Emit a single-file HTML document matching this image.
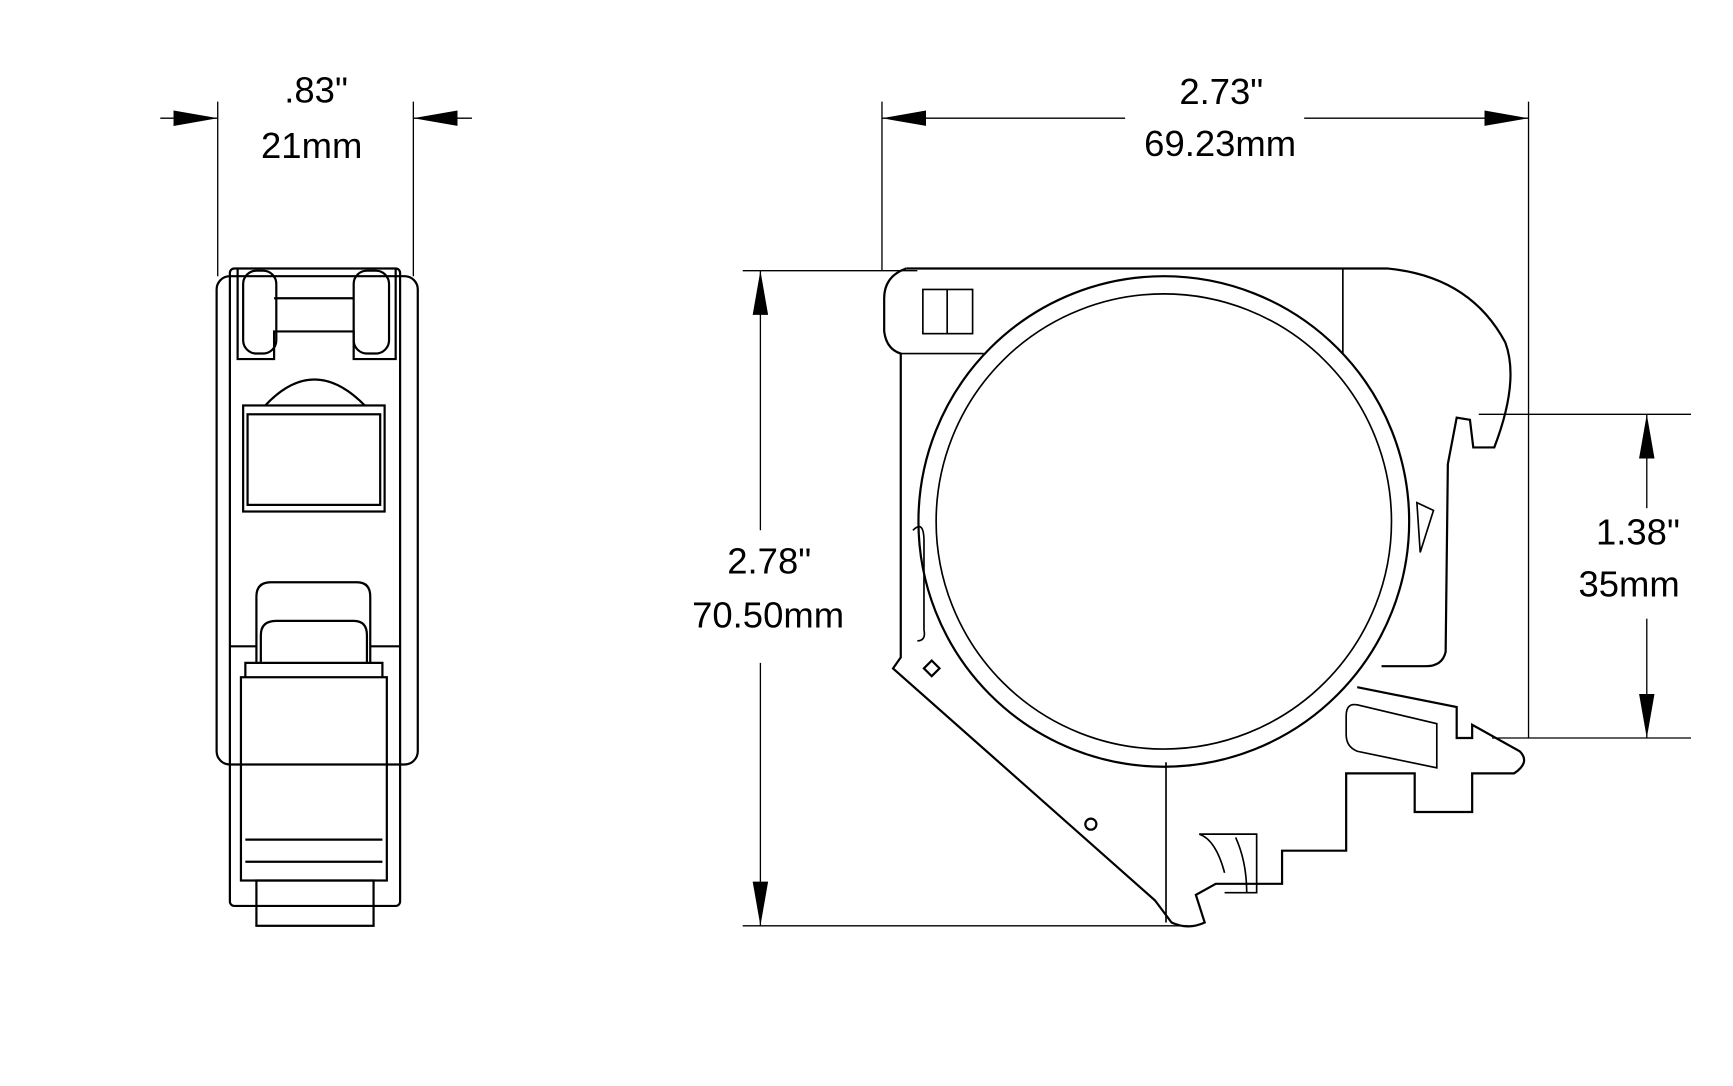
<!DOCTYPE html>
<html><head><style>html,body{margin:0;padding:0;background:#fff}svg{display:block}</style></head><body>
<svg width="1733" height="1086" viewBox="0 0 1568 983" preserveAspectRatio="none" xmlns="http://www.w3.org/2000/svg" font-family="Liberation Sans, sans-serif" font-size="33" fill="none" stroke="#000">
<defs>
<marker id="b" viewBox="0 0 40 14" refX="40" refY="7" markerWidth="40" markerHeight="14" orient="auto-start-reverse" markerUnits="userSpaceOnUse"><path d="M0,0 L40,7 L0,14 z" fill="#000" stroke="none"/></marker></defs>
<g stroke-width="1.2">
<line x1="197" y1="92" x2="197" y2="250"/><line x1="374" y1="92" x2="374" y2="250"/>
<line x1="145" y1="107" x2="197" y2="107" marker-end="url(#b)"/>
<line x1="427" y1="107" x2="374" y2="107" marker-end="url(#b)"/>
<line x1="798" y1="92" x2="798" y2="245"/><line x1="1383" y1="92" x2="1383" y2="668"/>
<line x1="1018" y1="107" x2="798" y2="107" marker-end="url(#b)"/>
<line x1="1180" y1="107" x2="1383" y2="107" marker-end="url(#b)"/>
<line x1="672" y1="245" x2="830" y2="245"/><line x1="672" y1="838" x2="1075" y2="838"/>
<line x1="688" y1="480" x2="688" y2="245" marker-end="url(#b)"/>
<line x1="688" y1="600" x2="688" y2="838" marker-end="url(#b)"/>
<line x1="1338" y1="375" x2="1530" y2="375"/><line x1="1350" y1="668" x2="1530" y2="668"/>
<line x1="1490" y1="460" x2="1490" y2="375" marker-end="url(#b)"/>
<line x1="1490" y1="560" x2="1490" y2="668" marker-end="url(#b)"/>
</g>
<g fill="#000" stroke="none" text-anchor="middle">
<text x="286" y="93">.83"</text><text x="282" y="143">21mm</text>
<text x="1105" y="94">2.73"</text><text x="1104" y="141">69.23mm</text>
<text x="696" y="519">2.78"</text><text x="695" y="568">70.50mm</text>
<text x="1482" y="493">1.38"</text><text x="1474" y="540">35mm</text>
</g>
<g stroke-width="2">
<rect x="196" y="250" width="182" height="442" rx="12"/>
<rect x="208" y="243" width="154" height="577" rx="4"/>
<path d="M215,243 V325 H248 V300 H320 V325 H358 V243"/>
<rect x="220" y="245" width="30" height="75" rx="12"/><rect x="320" y="245" width="32" height="75" rx="12"/>
<line x1="248" y1="270" x2="320" y2="270"/>
<path d="M240,367 Q284,320 330,367"/>
<rect x="220" y="367" width="128" height="96"/><rect x="224" y="375" width="120" height="82"/>
<path d="M232,600 V540 Q232,527 245,527 H323 Q335,527 335,540 V600"/>
<path d="M236,600 V575 Q236,562 250,562 H320 Q332,562 332,575 V600"/>
<path d="M208,585 H232 M335,585 H362"/>
<rect x="218" y="613" width="132" height="184"/>
<path d="M222,613 V600 H346 V613"/>
<path d="M222,760 H346 M222,780 H346"/>
<rect x="232" y="797" width="106" height="41"/>
</g>
<g stroke-width="2">
<path d="M820,243 H1255 Q1330,250 1362,310 Q1375,345 1352,405 H1333 L1330,380 L1318,378 L1310,420 L1308,590 Q1305,603 1290,603 H1250"/>
<path d="M820,243 Q800,250 800,270 V300 Q802,316 815,320 V595 L808,605 L1045,815 L1060,835 Q1075,842 1090,835 L1082,810 L1100,800 H1160 V770 H1218 V700 H1280 V735 H1332 V700 H1370 Q1385,690 1375,680 L1332,656 V668 H1318 V640 L1228,622"/>
<circle cx="1053" cy="472" r="222"/><circle cx="1053" cy="472" r="206" stroke-width="1.5"/>
<rect x="835" y="262" width="45" height="40" stroke-width="1.5"/><line x1="857" y1="262" x2="857" y2="302" stroke-width="1.5"/>
<path d="M815,320 H890" stroke-width="1.5"/>
<path d="M1215,243 V320" stroke-width="1.5"/>
<path d="M826,480 Q836,470 836,490 V570 Q838,580 830,580" stroke-width="1.5"/>
<rect x="838" y="600" width="10" height="10" transform="rotate(45 843 605)" stroke-width="2"/>
<circle cx="987" cy="746" r="5"/>
<path d="M1055,690 V835" stroke-width="1.5"/>
<path d="M1085,755 H1137 V808 H1108 M1085,755 Q1100,760 1108,790 M1118,758 Q1128,780 1128,808" stroke-width="1.5"/>
<path d="M1228,638 L1300,655 V695 L1228,680 Q1218,676 1218,665 V648 Q1218,636 1228,638 Z" stroke-width="1.5"/>
<path d="M1282,455 L1297,462 L1285,500 Z" stroke-width="1.5"/>
</g>
</svg>
</body></html>
